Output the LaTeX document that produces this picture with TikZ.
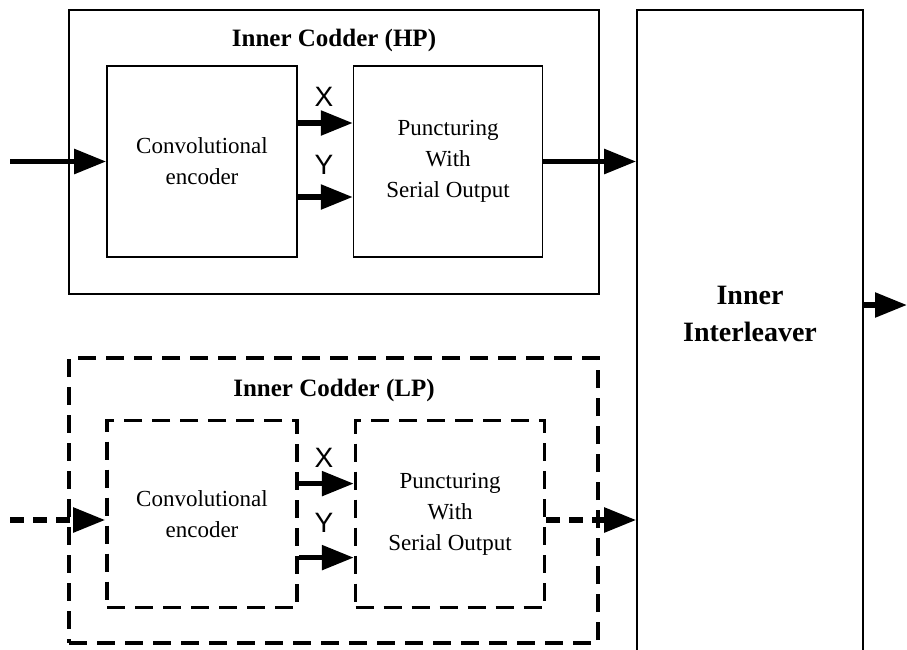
\documentclass[tikz,border=0pt]{standalone}
\usepackage{fontspec}
\setmainfont{Liberation Serif}
\newfontfamily\labelfont{Liberation Sans}
\usetikzlibrary{arrows.meta, positioning}

\begin{document}
\begin{tikzpicture}[
        x=1pt, y=-1pt,
        >={Triangle[length=32pt,width=24pt]},
        node distance=55pt,
        block/.style={rectangle, draw, line width=1.6pt, minimum width=190pt, minimum height=191pt, inner sep=0pt, align=center, font=\fontsize{23}{31}\selectfont},
        dblock/.style={block, line width=3.6pt, minimum height=187pt, dash pattern=on 18pt off 10pt},
        frame/.style={rectangle, draw, line width=1.6pt, inner sep=0pt},
        dframe/.style={frame, line width=3.6pt, dash pattern=on 18pt off 10pt},
        title/.style={font=\bfseries\fontsize{25}{30}\selectfont},
        sig/.style={->, line width=5.5pt},
        dsig/.style={sig, dash pattern=on 14pt off 9pt},
        bit/.style={font=\labelfont\fontsize{28}{28}\selectfont}
    ]

    \clip (0,0) rectangle (907,649);

    % HP branch
    \node (hp) [frame, minimum width=530pt, minimum height=284pt] at (334,152) {};
    \node (hptitle) [title] at (334,40) {Inner Codder (HP)};
    \node (conv1) [block] at (202,161.5) {Convolutional\\encoder};
    \node (punct1) [block, minimum width=189pt, right=of conv1] {Puncturing\\With\\Serial Output};

    % LP branch
    \node (lp) [dframe, minimum width=529pt, minimum height=285pt] at (333.5,500.5) {};
    \node (lptitle) [title] at (334,390) {Inner Codder (LP)};
    \node (conv2) [dblock, below=161pt of conv1] {Convolutional\\encoder};
    \node (punct2) [dblock, minimum width=189pt, right=of conv2] {Puncturing\\With\\Serial Output};

    % interleaver
    \node (inter) [frame, minimum width=226pt, minimum height=680pt] at (750,350) {};
    \node (interlbl) [font=\bfseries\fontsize{28}{37}\selectfont, align=center] at (750,314) {Inner\\Interleaver};

    \coordinate (in1) at (10,161.5);
    \coordinate (in2) at (10,520);
    \coordinate (out) at (907,305);

    \node (x1) [bit] at (324,97) {X};
    \node (y1) [bit] at (324,165) {Y};
    \node (x2) [bit] at (324,458) {X};
    \node (y2) [bit] at (324,523) {Y};

    \draw [sig] (in1) -- (conv1);
    \draw [sig] ([yshift=38.5pt]conv1.east) -- ([yshift=38.5pt]punct1.west);
    \draw [sig] ([yshift=-35.5pt]conv1.east) -- ([yshift=-35.5pt]punct1.west);
    \draw [sig] (punct1) -- (punct1 -| inter.west);

    \draw [dsig] (in2) -- (in2 -| conv2.west);
    \draw [sig] ([yshift=30.5pt]conv2.east) -- ([yshift=30.5pt]punct2.west);
    \draw [sig] ([yshift=-43.5pt]conv2.east) -- ([yshift=-43.5pt]punct2.west);
    \draw [dsig] (punct2.east |- in2) -- (in2 -| inter.west);

    \draw [sig] (inter.east |- out) -- (out);

\end{tikzpicture}
\end{document}
